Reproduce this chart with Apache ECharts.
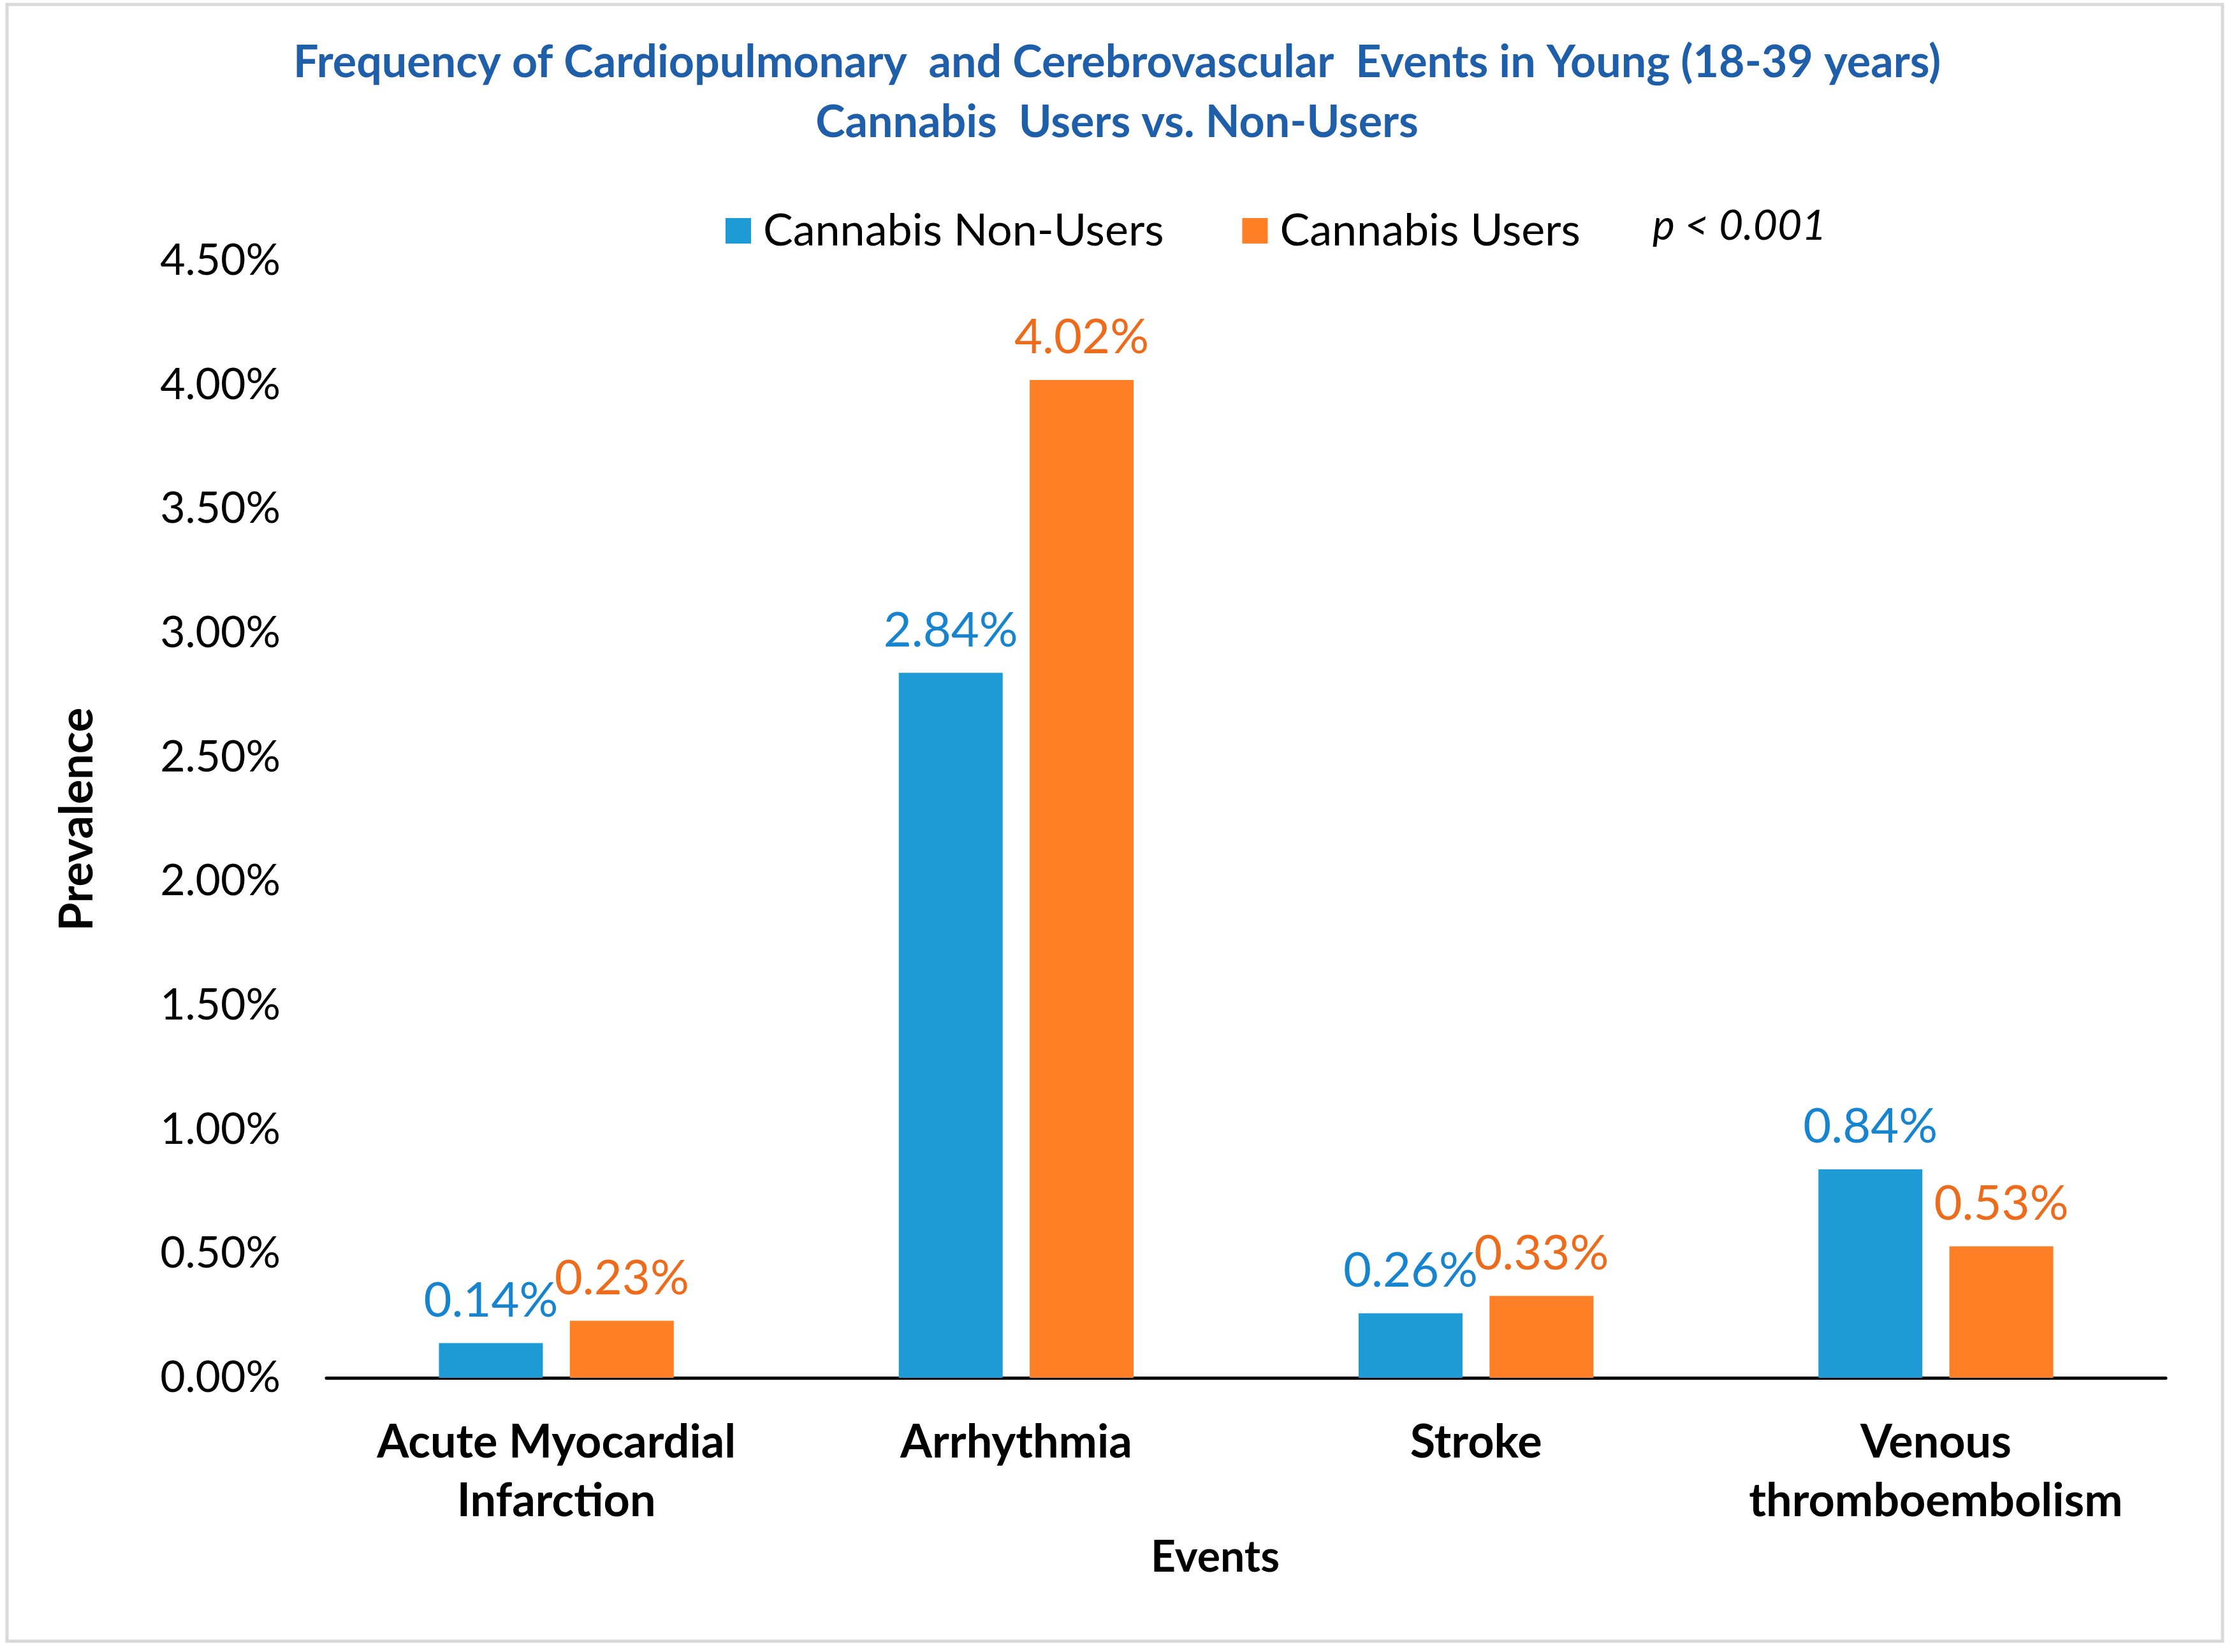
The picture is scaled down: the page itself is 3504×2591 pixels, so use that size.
<!DOCTYPE html>
<html>
<head>
<meta charset="utf-8">
<script src="https://cdn.jsdelivr.net/npm/echarts@6/dist/echarts.min.js"></script>
<style>html,body{margin:0;padding:0;background:#fff;}#c{width:3504px;height:2591px;}</style>
</head>
<body>
<div id="c"></div>
<script>
const categories = ['Acute Myocardial\nInfarction', 'Arrhythmia', 'Stroke', 'Venous\nthromboembolism'];
const nonUsers = [0.14, 2.84, 0.26, 0.84];
const users = [0.23, 4.02, 0.33, 0.53];
const seriesNames = ['Cannabis Non-Users', 'Cannabis Users'];
const titleText = 'Frequency of Cardiopulmonary  and Cerebrovascular  Events in Young (18-39 years)\nCannabis  Users vs. Non-Users';
const pText = 'p < 0.001';

const FONT = 'Lato';
const chart = echarts.init(document.getElementById('c'), null, {renderer: 'canvas'});
chart.setOption({
  backgroundColor: '#ffffff',
  animation: false,
  title: {
    text: titleText,
    left: 'center',
    top: 46,
    textStyle: {fontFamily: FONT, fontWeight: 'bold', fontSize: 70, color: '#1F5FAA', lineHeight: 94}
  },
  legend: {
    data: seriesNames,
    left: 1133,
    top: 322,
    icon: 'rect',
    itemWidth: 40,
    itemHeight: 40,
    itemGap: 123,
    textStyle: {fontFamily: FONT, fontSize: 70, color: '#000', padding: [0, 0, 0, 14]}
  },
  grid: {left: 512, right: 107, top: 409, bottom: 430, containLabel: false},
  xAxis: {
    type: 'category',
    data: categories,
    axisLine: {lineStyle: {color: '#000', width: 5}},
    axisTick: {show: false},
    axisLabel: {interval: 0, hideOverlap: false, fontFamily: FONT, fontWeight: 'bold', fontSize: 72, color: '#000', margin: 56, lineHeight: 92}
  },
  yAxis: {
    type: 'value',
    min: 0,
    max: 4.5,
    interval: 0.5,
    name: 'Prevalence',
    nameLocation: 'middle',
    nameGap: 354,
    nameTextStyle: {fontFamily: FONT, fontWeight: 'bold', fontSize: 72, color: '#000'},
    axisLine: {show: false},
    axisTick: {show: false},
    splitLine: {show: false},
    axisLabel: {fontFamily: FONT, fontSize: 68, color: '#000', margin: 72, formatter: v => v.toFixed(2) + '%'}
  },
  graphic: [
    {type: 'rect', shape: {x: 11, y: 7, width: 3475, height: 2567}, style: {fill: 'none', stroke: '#D9D9D9', lineWidth: 5}, z: -1},
    {type: 'text', left: 2592, top: 322, style: {text: pText, font: 'italic 66px Lato', fill: '#000'}},
    {type: 'text', x: 1906, y: 2443, style: {text: 'Events', font: 'bold 68px Lato', fill: '#000', textAlign: 'center', textVerticalAlign: 'middle'}}
  ],
  series: [
    {
      name: seriesNames[0], type: 'bar', data: nonUsers, barWidth: 163, barGap: '26%',
      itemStyle: {color: '#1E9BD7'},
      label: {show: true, position: 'top', distance: 28, fontFamily: FONT, fontSize: 76, color: '#1784D0', formatter: p => p.value.toFixed(2) + '%'}
    },
    {
      name: seriesNames[1], type: 'bar', data: users, barWidth: 163,
      itemStyle: {color: '#FF7F27'},
      label: {show: true, position: 'top', distance: 28, fontFamily: FONT, fontSize: 76, color: '#EE6B1C', formatter: p => p.value.toFixed(2) + '%'}
    }
  ]
});
</script>
</body>
</html>
